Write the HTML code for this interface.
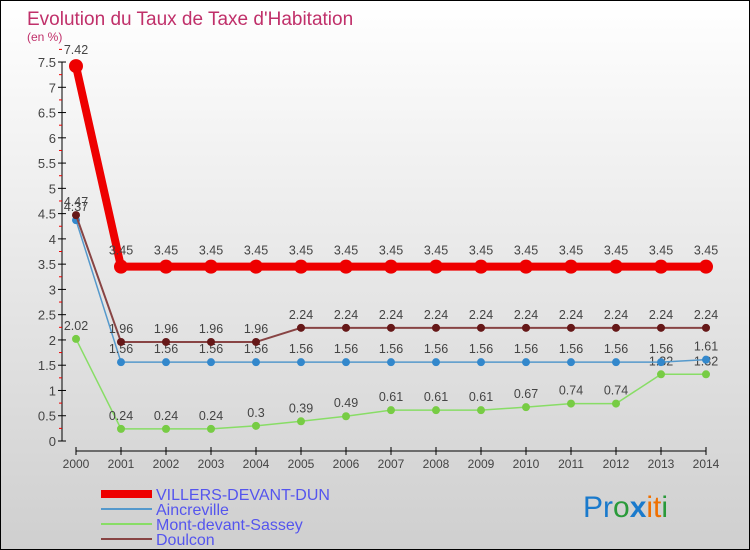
<!DOCTYPE html>
<html><head><meta charset="utf-8"><style>
body{margin:0}
#c{position:relative;width:748px;height:548px;border:1px solid #000;background:linear-gradient(#fff,#cfcfcf);font-family:"Liberation Sans",sans-serif;overflow:hidden}
text{font-family:"Liberation Sans",sans-serif}
</style></head><body>
<div id="c">
<svg id="s" width="748" height="548">
<text x="26" y="24" font-size="19" fill="#c0306a">Evolution du Taux de Taxe d'Habitation</text>
<text x="26" y="40" font-size="12" fill="#c0306a">(en %)</text>
<g id="g"></g>
<g font-size="30">
<text x="582" y="516"><tspan fill="#1a7acc">Pr</tspan><tspan fill="#2a9a3a">o</tspan><tspan fill="#1a7acc" font-weight="bold">x</tspan><tspan fill="#f07000">i</tspan><tspan fill="#f07000">t</tspan><tspan fill="#2a9a3a">i</tspan></text>
</g>
</svg>
</div>
<script>
const years=[2000,2001,2002,2003,2004,2005,2006,2007,2008,2009,2010,2011,2012,2013,2014];
const villers=[7.42,3.45,3.45,3.45,3.45,3.45,3.45,3.45,3.45,3.45,3.45,3.45,3.45,3.45,3.45];
const aincreville=[4.37,1.56,1.56,1.56,1.56,1.56,1.56,1.56,1.56,1.56,1.56,1.56,1.56,1.56,1.61];
const montDevant=[2.02,0.24,0.24,0.24,0.3,0.39,0.49,0.61,0.61,0.61,0.67,0.74,0.74,1.32,1.32];
const doulcon=[4.47,1.96,1.96,1.96,1.96,2.24,2.24,2.24,2.24,2.24,2.24,2.24,2.24,2.24,2.24];
const yTicks=[0,0.5,1,1.5,2,2.5,3,3.5,4,4.5,5,5.5,6,6.5,7,7.5];
const NS="http://www.w3.org/2000/svg";
const g=document.getElementById('g');
const X=i=>75+i*45;
const Y=v=>440-v*50.53;
function el(t,a,p){const e=document.createElementNS(NS,t);for(const k in a)e.setAttribute(k,a[k]);(p||g).appendChild(e);return e;}
let ya=el('line',{x1:61,y1:Y(0),x2:61,y2:Y(7.5),stroke:'#000'});


yTicks.forEach(v=>{
 el('line',{x1:57,x2:65,y1:Y(v),y2:Y(v),stroke:'#000'});
 el('line',{x1:58,x2:61,y1:Y(v+0.25),y2:Y(v+0.25),stroke:'#e00'});
 const t=el('text',{x:55,y:Y(v)+5,'font-size':13,fill:'#444','text-anchor':'end'});
 t.textContent=String(v);
 
 
});
let xa=el('line',{x1:X(0),y1:450,x2:X(years.length-1),y2:450,stroke:'#000'});


years.forEach((y,i)=>{
 el('line',{x1:X(i),x2:X(i),y1:446,y2:454,stroke:'#000'});
 const t=el('text',{x:X(i),y:467,'font-size':12,fill:'#444','text-anchor':'middle'});
 t.textContent=y;
 
 
});
function series(vals,color,lw,r,dotColor,name){
 const grp=el('g',{});
 
 
 el('polyline',{points:vals.map((v,i)=>X(i)+','+Y(v)).join(' '),fill:'none',stroke:color,'stroke-width':lw,'stroke-linejoin':'round'},grp);
 vals.forEach((v,i)=>{
  const c=el('circle',{cx:X(i),cy:Y(v),r:r,fill:dotColor},grp);
  
  
  const t=el('text',{x:X(i),y:Y(v)-r-5,'font-size':12.5,fill:'#444','text-anchor':'middle'},grp);
  t.textContent=String(v);
 });
}
series(montDevant,'#88dd66',1.5,4,'#77cc44','series-mont-devant-sassey');
series(aincreville,'#5599cc',1.5,4,'#3388cc','series-aincreville');
series(doulcon,'#884444',2,4,'#661818','series-doulcon');
series(villers,'#ee0000',8,7,'#ee0000','series-villers-devant-dun');
const legend=[['VILLERS-DEVANT-DUN','#ee0000',8],['Aincreville','#5599cc',2],['Mont-devant-Sassey','#88dd66',2],['Doulcon','#884444',2]];
legend.forEach((l,i)=>{
 const y=493+i*15;
 const lg=el('g',{});
 
 
 el('line',{x1:100,x2:151,y1:y,y2:y,stroke:l[1],'stroke-width':l[2]},lg);
 const t=el('text',{x:155,y:y+6,'font-size':16,fill:'#5555ee'},lg);
 t.textContent=l[0];
});
</script>
</body></html>
